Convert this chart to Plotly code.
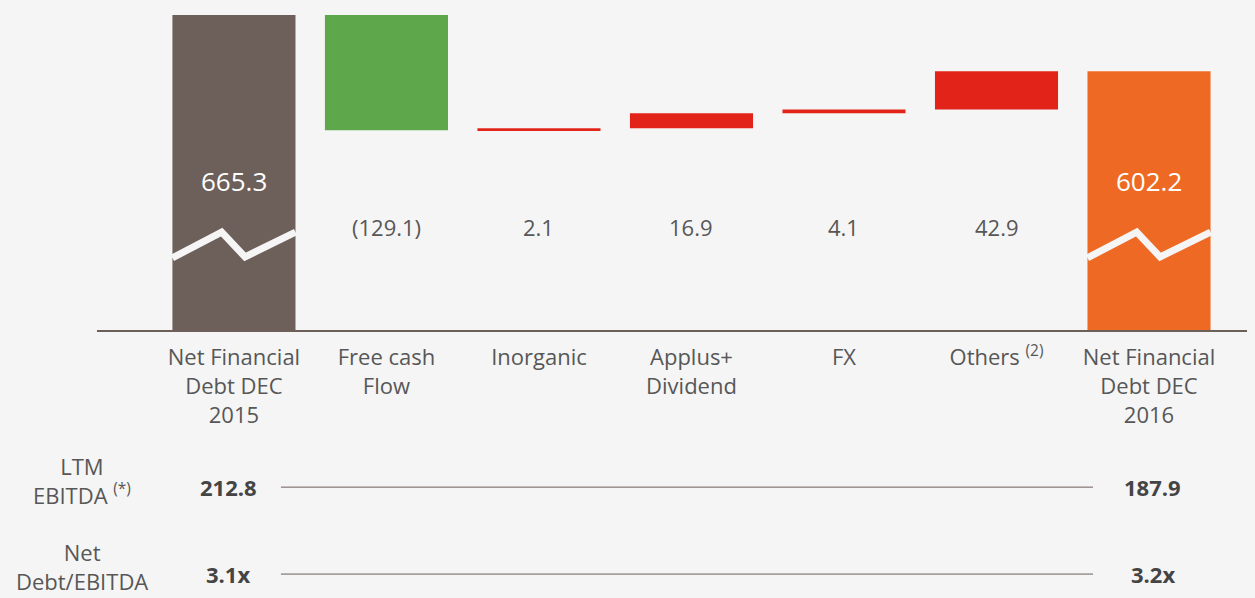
import plotly.graph_objects as go

# data
categories = ["Net Financial<br>Debt DEC<br>2015", "Free cash<br>Flow", "Inorganic",
              "Applus+<br>Dividend", "FX", "Others <sup>(2)</sup>",
              "Net Financial<br>Debt DEC<br>2016"]
start_value = 665.3
changes = [-129.1, 2.1, 16.9, 4.1, 42.9]
end_value = 602.2
value_labels = ["665.3", "(129.1)", "2.1", "16.9", "4.1", "42.9", "602.2"]
ebitda = ["212.8", "187.9"]
debt_ebitda = ["3.1x", "3.2x"]

BG = "#f5f5f5"
GREY_TXT = "#575757"
DARK_TXT = "#444444"
LINE_C = "#6d5f5a"
colors = ["#6d5f5a", "#5ea84b", "#e2231a", "#e2231a", "#e2231a", "#e2231a", "#ee6a24"]

# waterfall bases / heights
bases, heights = [0], [start_value]
level = start_value
for c in changes:
    if c < 0:
        bases.append(level + c)
        heights.append(-c)
    else:
        bases.append(level)
        heights.append(c)
    level += c
bases.append(0)
heights.append(end_value)

x_idx = list(range(len(categories)))
BAR_W = 0.807

fig = go.Figure()
fig.add_trace(go.Bar(
    x=x_idx, y=heights, base=bases,
    width=BAR_W,
    marker=dict(color=colors, line=dict(width=0)),
    hoverinfo="skip",
))

# value labels
for i, lab in enumerate(value_labels):
    total = i in (0, len(value_labels) - 1)
    fig.add_annotation(
        x=i, y=0.463 if total else 0.32, xref="x", yref="paper",
        xanchor="center", yanchor="middle",
        text=lab, showarrow=False,
        font=dict(size=26 if total else 22, color="white" if total else GREY_TXT),
    )

# break marks on the total bars
for i in (0, len(categories) - 1):
    x0 = i - BAR_W / 2
    pts = [(x0, 0.224), (x0 + 0.40 * BAR_W, 0.304),
           (x0 + 0.59 * BAR_W, 0.227), (x0 + BAR_W, 0.304)]
    path = "M " + " L ".join(f"{px},{py}" for px, py in pts)
    fig.add_shape(type="path", path=path, xref="x", yref="paper",
                  line=dict(color=BG, width=7))

# bottom rows
rows = [("LTM<br>EBITDA <sup>(*)</sup>", ebitda, -0.488, -0.467),
        ("Net<br>Debt/EBITDA", debt_ebitda, -0.758, -0.736)]
for label, vals, yv, yl in rows:
    fig.add_annotation(x=-0.013, y=yl, xref="paper", yref="paper", text=label,
                       showarrow=False, xanchor="center", yanchor="middle",
                       font=dict(size=22, color=GREY_TXT))
    fig.add_annotation(x=-0.036, y=yv, xref="x", yref="paper", text=f"<b>{vals[0]}</b>",
                       showarrow=False, xanchor="center", yanchor="middle",
                       font=dict(size=22, color=DARK_TXT))
    fig.add_annotation(x=6.026, y=yv, xref="x", yref="paper",
                       text=f"<b>{vals[1]}</b>", showarrow=False,
                       xanchor="center", yanchor="middle",
                       font=dict(size=22, color=DARK_TXT))
    fig.add_shape(type="line", xref="x", yref="paper", x0=0.308, x1=5.633,
                  y0=yv, y1=yv, line=dict(color=LINE_C, width=1))

fig.update_layout(
    width=1255, height=598,
    paper_bgcolor=BG, plot_bgcolor=BG,
    margin=dict(l=89, r=8, t=0, b=276),
    showlegend=False,
    font=dict(family="Open Sans", color=GREY_TXT),
)
fig.update_xaxes(
    tickmode="array", tickvals=x_idx, ticktext=categories,
    range=[-0.898, 6.695], showgrid=False, zeroline=False,
    showline=True, linecolor=LINE_C, linewidth=2,
    ticks="", ticklabelstandoff=7, tickfont=dict(size=22, color=GREY_TXT),
)
fig.update_yaxes(range=[312.5, 673.1], visible=False, showgrid=False)

# page margin around the figure gets the same background
fig.write_html("out.html", post_script=f"document.body.style.backgroundColor='{BG}';")
